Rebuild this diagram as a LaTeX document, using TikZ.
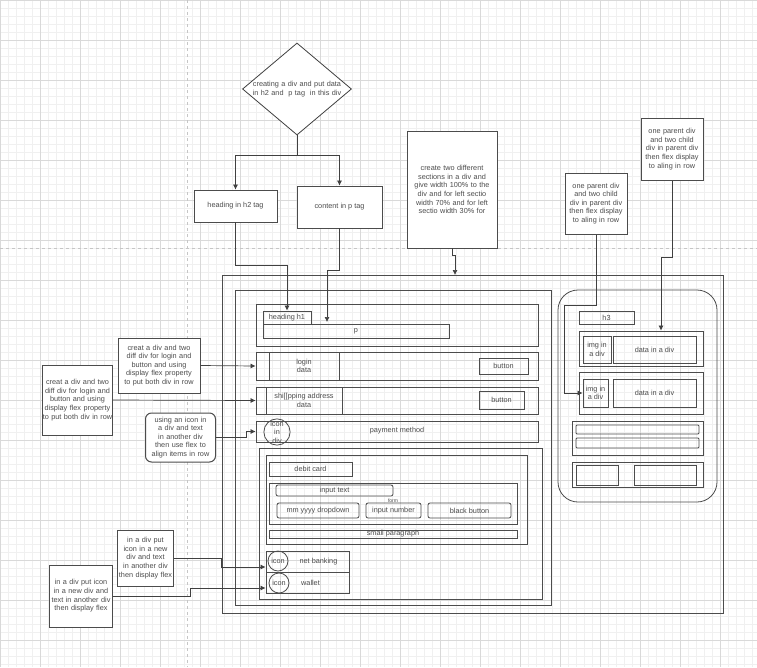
\documentclass[tikz,border=0pt]{standalone}
\usepackage{fontspec}
\setmainfont{Liberation Sans}
\usetikzlibrary{shapes.geometric,arrows.meta}
\newcommand{\rbox}[7][]{\node[box,#1,minimum width={#4-#2},minimum height={#5-#3}] (#6) at ({(#2+#4)/2},{(#3+#5)/2}) {#7};}
\tikzset{
  box/.style={draw=black!70,line width=0.8pt,inner sep=0pt,font=\fontsize{7.3}{8.6}\selectfont,text=black!70,align=center},
  note/.style={box,line width=1pt},
  wire/.style={draw=black!75,line width=0.7pt},
  arr/.style={wire,-{Latex[length=5pt,width=5pt]}}
}
\begin{document}
\begin{tikzpicture}[x=1pt,y=-1pt]
		\useasboundingbox (0,0) rectangle (757,667);
		\fill[white] (0,0) rectangle (757,667);
		%Grid
		\foreach \i in {0,8,...,760} \draw[gray!12,line width=0.4pt] (\i,0) -- (\i,667);
		\foreach \i in {0,8,...,670} \draw[gray!12,line width=0.4pt] (0,\i) -- (757,\i);
		\foreach \i in {0,40,...,760} \draw[gray!30,line width=0.4pt] (\i,0) -- (\i,667);
		\foreach \i in {0,40,...,670} \draw[gray!30,line width=0.4pt] (0,\i) -- (757,\i);
		\draw[gray!45,dashed,line width=0.8pt] (0,248) -- (757,248);
		\draw[gray!45,dashed,line width=0.8pt] (187,0) -- (187,667);
		%Top flow
		\node[diamond,draw=black!75,line width=0.8pt,fill=white,minimum width=109,minimum height=92,inner sep=0pt] (dia) at (297,89) {};
		\node[box,draw=none,text width=112] at (dia) {creating a div and put data in h2 and\ \ p tag\ \ in this div};
		\rbox[fill=white]{194}{190}{277}{222}{hh2}{heading in h2 tag}
		\rbox[fill=white]{297}{186}{382}{228}{cp}{content in p tag}
		\rbox[note,fill=white,text width=88]{407}{131}{497}{248}{secs}{create two different sections in a div and give width 100\% to the div and for left sectio width 70\% and for left sectio width 30\% for}
		\draw[arr] (dia.south) -- ++(0,20) -| (hh2.north);
		\draw[arr] (dia.south) -- ++(0,20) -| (cp.north);
		%Outer layout
		\rbox{222}{275}{723}{613}{outer}{}
		\rbox{235}{290}{551}{605}{left}{}
		\rbox[rounded corners=20pt]{558}{290}{717}{502}{right}{}
		%Left section
		\rbox{256}{304}{538}{346}{rowh}{}
		\rbox{263}{311}{311}{324}{hd1}{heading h1}
		\rbox{263}{324}{449}{338}{par}{p}
		\rbox{256}{352}{538}{380}{rowl}{}
		\rbox{269}{352}{339}{380}{login}{login\\data}
		\rbox{479}{358}{528}{374}{btna}{button}
		\rbox{256}{387}{538}{414}{rows}{}
		\rbox{266}{387}{342}{414}{ship}{shi[[pping address\\data}
		\rbox{479}{391}{524}{409}{btnb}{button}
		\rbox{256}{421}{538}{442}{rowp}{}
		\node[box,circle,minimum size=20] (icp) at (277,432) {icon\\in\\div};
		\node[box,draw=none] at (397,431) {payment method};
		\rbox{259}{448}{542}{599}{cards}{}
		\rbox{266}{455}{527}{544}{debit}{}
		\rbox{269}{462}{352}{476}{dcard}{debit card}
		\rbox{269}{483}{517}{524}{form}{}
		\rbox[rounded corners=2pt]{276}{485}{393}{496}{intext}{input text}
		\node[box,draw=none,font=\fontsize{5}{5}\selectfont] at (393,501) {form};
		\rbox[rounded corners=2pt]{277}{503}{359}{518}{mmyy}{mm yyyy dropdown}
		\rbox[rounded corners=2pt]{366}{503}{421}{518}{innum}{input number}
		\rbox[rounded corners=2pt]{428}{503}{511}{518}{bbtn}{black button}
		\rbox{269}{530}{517}{538}{small}{small paragraph}
		\rbox{266}{551}{349}{572}{netb}{\hspace*{22pt}net banking}
		\rbox{266}{572}{349}{593}{wall}{\hspace*{6pt}wallet}
		\node[box,circle,minimum size=20] (icn) at (278,561) {icon};
		\node[box,circle,minimum size=20] (icw) at (279,583) {icon};
		%Right section
		\rbox{579}{311}{634}{324}{hthree}{h3}
		\rbox{579}{331}{703}{366}{rowa}{}
		\rbox{583}{336}{611}{363}{imga}{img in\\a div}
		\rbox{613}{336}{696}{363}{data}{data in a div}
		\rbox{579}{372}{703}{414}{rowb}{}
		\rbox{583}{379}{608}{407}{imgb}{img in\\a div}
		\rbox{613}{379}{696}{407}{datb}{data in a div}
		\rbox{572}{421}{703}{455}{rowc}{}
		\rbox[rounded corners=1pt]{576}{425}{699}{434}{bara}{}
		\rbox[rounded corners=1pt]{576}{438}{699}{448}{barb}{}
		\rbox{572}{462}{703}{487}{rowd}{}
		\rbox{576}{465}{618}{485}{sqa}{}
		\rbox{634}{465}{696}{485}{sqb}{}
		%Notes
		\rbox[note,fill=white,text width=62]{565}{173}{627}{234}{nta}{one parent div and two child div in parent div then flex display to aling in row}
		\rbox[note,fill=white,text width=62]{641}{118}{703}{180}{ntb}{one parent div and two child div in parent div then flex display to aling in row}
		\rbox[note,fill=white,text width=82]{118}{338}{200}{393}{ntl}{creat a div and two diff div for login and button and using display flex property to put both div in row}
		\rbox[note,fill=white,text width=70]{43}{365}{112}{435}{nts}{creat a div and two diff div for login and button and using display flex property to put both div in row}
		\rbox[note,fill=white,rounded corners=6pt,text width=70]{146}{413}{215}{462}{ntp}{using an icon in a div and text in another div then use flex to align items in row}
		\rbox[note,fill=white,text width=56]{118}{530}{173}{586}{ntn}{in a div put icon in a new div and text in another div then display flex}
		\rbox[note,fill=white,text width=63]{50}{565}{112}{627}{ntw}{in a div put icon in a new div and text in another div then display flex}
		%Connectors
		\draw[arr] (hh2.south) -- ++(0,43) -| (hd1.north);
		\draw[arr] (cp.south) -- ++(0,42) -| (327,322);
		\draw[arr] (452,248) -- ++(0,7) -- ++(3,0) -- (455,275);
		\draw[arr] (nta.south) -- ++(0,71) -- ++(-32,0) |- (imgb.west);
		\draw[arr] (ntb.south) -- ++(0,77) -- ++(-11,0) -- (rowa.north -| 661,0);
		\draw[arr] (ntl.east) -- (rowl.west);
		\draw[arr] (nts.east) -- (rows.west);
		\draw[arr] (ntp.east) -- ++(30,0) |- (rowp.west);
		\draw[arr] (ntn.east) -- ++(47,0) |- (netb.west |- 0,567);
		\draw[arr] (ntw.east) -- ++(77,0) |- (wall.west |- 0,588);
\end{tikzpicture}
\end{document}
